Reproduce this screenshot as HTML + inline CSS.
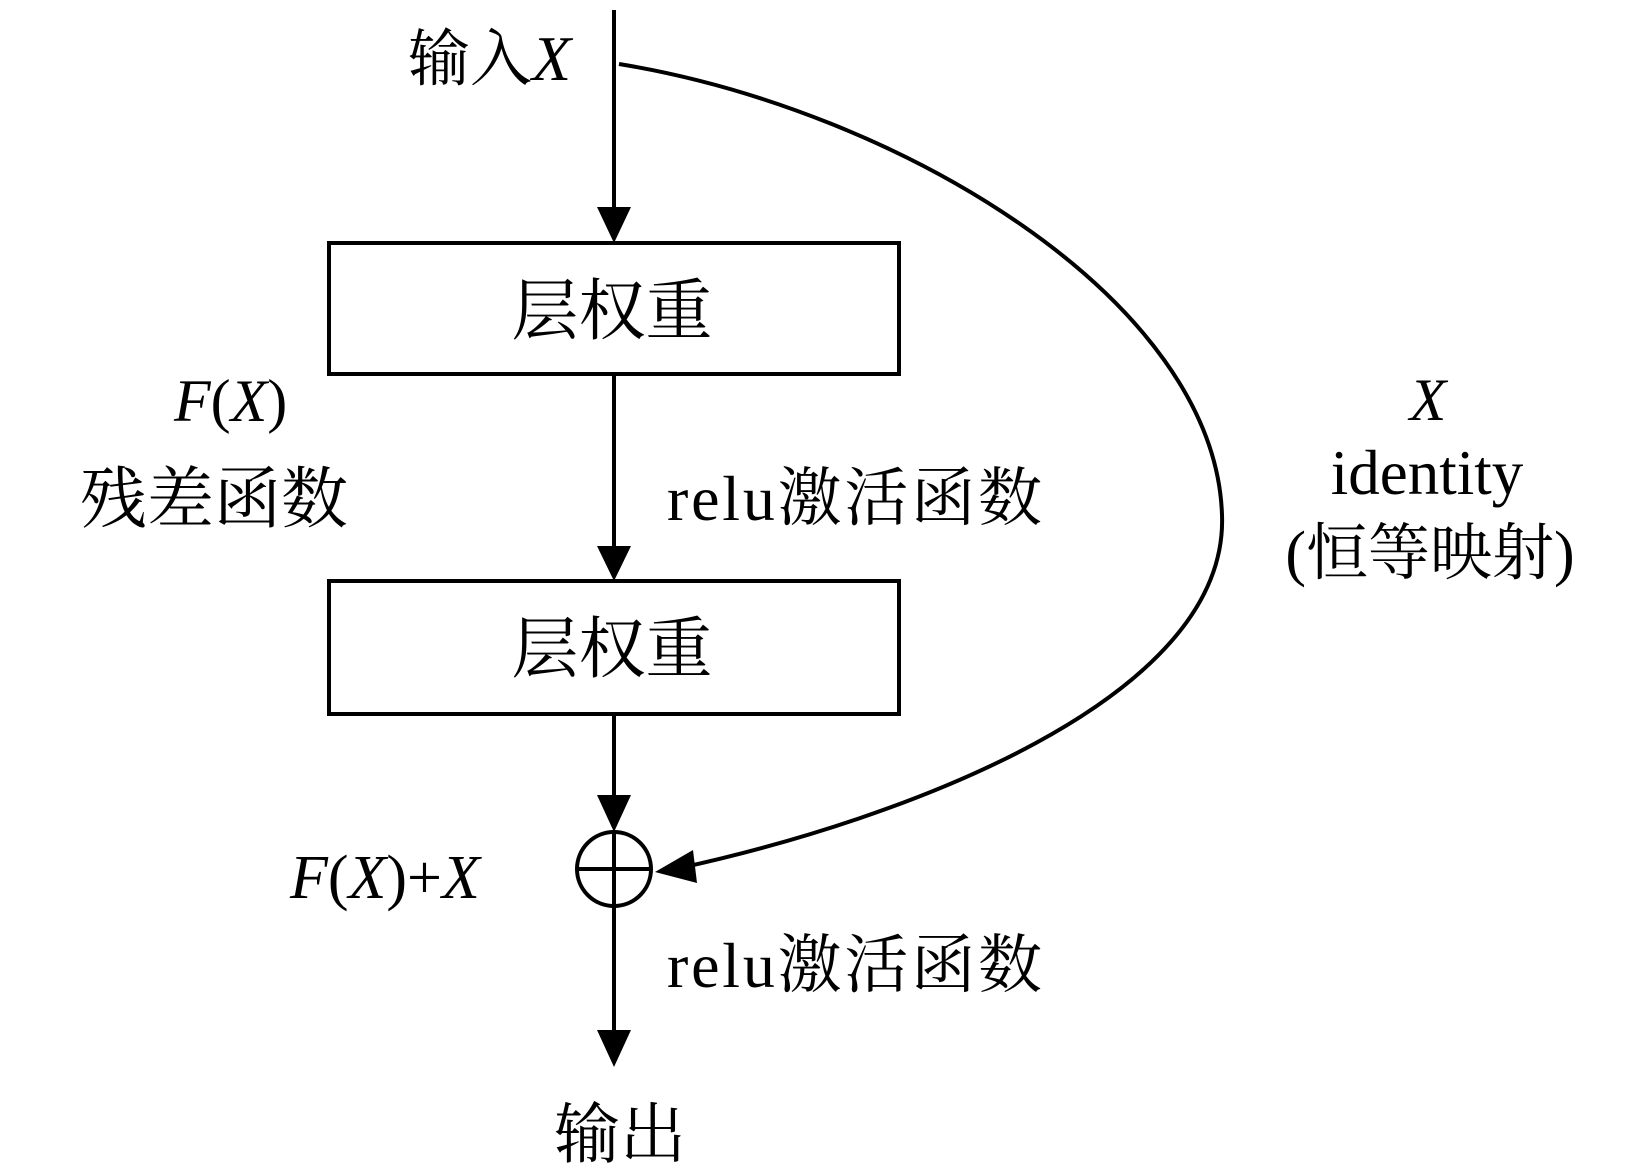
<!DOCTYPE html>
<html><head><meta charset="utf-8"><style>
html,body{margin:0;padding:0;background:#fff;}
svg{display:block;}
text{font-family:"Liberation Serif","Noto Serif CJK SC",serif;fill:#000;}
.i{font-style:italic;}
</style></head><body>
<svg width="1652" height="1168" viewBox="0 0 1652 1168" xmlns="http://www.w3.org/2000/svg">
<g stroke="#000" stroke-width="4" fill="none">
<line x1="614" y1="10" x2="614" y2="212"/>
<rect x="329" y="243" width="570" height="131"/>
<line x1="614" y1="374" x2="614" y2="550"/>
<rect x="329" y="581" width="570" height="133"/>
<line x1="614" y1="714" x2="614" y2="800"/>
<circle cx="614" cy="869" r="37"/>
<line x1="577" y1="869" x2="651" y2="869"/>
<line x1="614" y1="832" x2="614" y2="1035"/>
<path d="M619 64 C 900 110, 1215 300, 1222 515 C 1229 700, 900 820, 680 868"/>
</g>
<g fill="#000">
<polygon points="597,207 631,207 614,243"/>
<polygon points="597,546 631,546 614,581"/>
<polygon points="597,795 631,795 614,832"/>
<polygon points="597,1030 631,1030 614,1067"/>
<polygon points="655,872 693,850 697,883"/>
</g>
<text x="408" y="80" font-size="62">输入<tspan class="i" font-size="64">X</tspan></text>
<text x="612" y="334" font-size="67" text-anchor="middle">层权重</text>
<text x="612" y="672" font-size="67" text-anchor="middle">层权重</text>
<text x="174" y="421" font-size="60"><tspan class="i">F</tspan>(<tspan class="i">X</tspan>)</text>
<text x="80" y="522" font-size="67">残差函数</text>
<text x="667" y="520" font-size="64" textLength="375">relu激活函数</text>
<text x="667" y="987" font-size="64" textLength="375">relu激活函数</text>
<text x="1428" y="420" font-size="60" text-anchor="middle" class="i">X</text>
<text x="1427" y="494" font-size="63" text-anchor="middle">identity</text>
<text x="1430" y="574" font-size="62" text-anchor="middle">(恒等映射)</text>
<text x="290" y="898" font-size="62"><tspan class="i">F</tspan>(<tspan class="i">X</tspan>)+<tspan class="i">X</tspan></text>
<text x="620" y="1157" font-size="66" text-anchor="middle">输出</text>
</svg>
</body></html>
